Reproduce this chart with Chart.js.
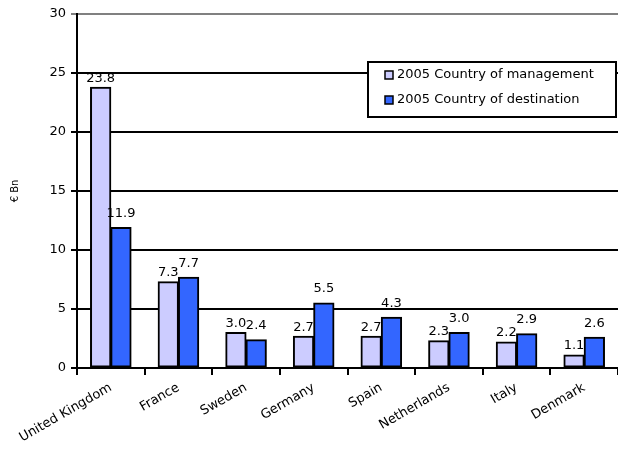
<!DOCTYPE html>
<html>
<head>
<meta charset="utf-8">
<script src="https://cdn.jsdelivr.net/npm/chart.js@4"></script>
<style>
  html, body { margin: 0; padding: 0; background: #fff; }
  #wrap { width: 618px; height: 450px; }
</style>
</head>
<body>
<div id="wrap"><canvas id="fundsChart" width="618" height="450"></canvas></div>
<script>
const countries = ['United Kingdom', 'France', 'Sweden', 'Germany', 'Spain', 'Netherlands', 'Italy', 'Denmark']
const management = [23.8, 7.3, 3.0, 2.7, 2.7, 2.3, 2.2, 1.1]
const destination = [11.9, 7.7, 2.4, 5.5, 4.3, 3.0, 2.9, 2.6]
const seriesNames = ['2005 Country of management', '2005 Country of destination']
const yTicks = [0, 5, 10, 15, 20, 25, 30]

const FONT = 'DejaVu Sans, Verdana, sans-serif'

// value labels above each bar
const valueLabels = {
    id: 'valueLabels',
    afterDatasetsDraw(chart) {
        const ctx = chart.ctx
        ctx.save()
        ctx.font = '13px ' + FONT
        ctx.fillStyle = '#000'
        ctx.textAlign = 'center'
        ctx.textBaseline = 'middle'
        const lift = [9, 14]
        chart.data.datasets.forEach((ds, i) => {
            chart.getDatasetMeta(i).data.forEach((bar, j) => {
                ctx.fillText(ds.data[j].toFixed(1), bar.x, bar.y - lift[i])
            })
        })
        ctx.restore()
    }
}

// boxed legend sitting inside the plot
const boxLegend = {
    id: 'boxLegend',
    afterDraw(chart) {
        const ctx = chart.ctx
        const x = 368, y = 62, w = 248, h = 55
        ctx.save()
        ctx.fillStyle = '#fff'
        ctx.fillRect(x, y, w, h)
        ctx.lineWidth = 2
        ctx.strokeStyle = '#000'
        ctx.strokeRect(x, y, w, h)
        ctx.font = '13px ' + FONT
        ctx.textBaseline = 'middle'
        chart.data.datasets.forEach((ds, i) => {
            const cy = y + 13 + i * 25
            ctx.fillStyle = ds.backgroundColor
            ctx.fillRect(385, cy - 4, 8, 8)
            ctx.lineWidth = 1.5
            ctx.strokeRect(385, cy - 4, 8, 8)
            ctx.fillStyle = '#000'
            ctx.fillText(ds.label, 397, cy)
        })
        ctx.restore()
    }
}

const chart = new Chart(document.getElementById('fundsChart'), {
    type: 'bar',
    data: {
        labels: countries,
        datasets: [{
            label: seriesNames[0],
            data: management,
            backgroundColor: '#CCCCFF',
            borderColor: '#000',
            borderWidth: 2,
            borderSkipped: false,
            inflateAmount: 0.5
        }, {
            label: seriesNames[1],
            data: destination,
            backgroundColor: '#3366FF',
            borderColor: '#000',
            borderWidth: 2,
            borderSkipped: false,
            inflateAmount: 0.5
        }]
    },
    options: {
        responsive: false,
        animation: false,
        devicePixelRatio: 1,
        layout: { padding: { top: 14, right: 0, left: 0, bottom: 0 } },
        datasets: {
            bar: { categoryPercentage: 0.6, barPercentage: 1 }
        },
        plugins: {
            legend: { display: false },
            tooltip: { enabled: false }
        },
        scales: {
            x: {
                afterFit(scale) { scale.height = 82 },
                grid: {
                    drawOnChartArea: false,
                    color: '#000',
                    lineWidth: 2,
                    tickLength: 7
                },
                border: { color: '#000', width: 2 },
                ticks: {
                    color: '#000',
                    font: { family: FONT, size: 13 },
                    minRotation: 30,
                    maxRotation: 30,
                    padding: 5
                }
            },
            y: {
                min: 0,
                max: 30,
                afterFit(scale) { scale.width = 77 },
                afterBuildTicks(scale) { scale.ticks = yTicks.map(v => ({ value: v })) },
                grid: {
                    color: c => c.tick && c.tick.value === 30 ? '#808080' : '#000',
                    lineWidth: 2,
                    tickLength: 6
                },
                border: { color: '#000', width: 2 },
                ticks: {
                    color: '#000',
                    font: { family: FONT, size: 13 },
                    padding: 5
                },
                title: {
                    display: true,
                    text: '€ Bn',
                    color: '#000',
                    font: { family: FONT, size: 10 },
                    padding: { top: 9, bottom: 4 }
                }
            }
        }
    },
    plugins: [valueLabels, boxLegend]
})
</script>
</body>
</html>
